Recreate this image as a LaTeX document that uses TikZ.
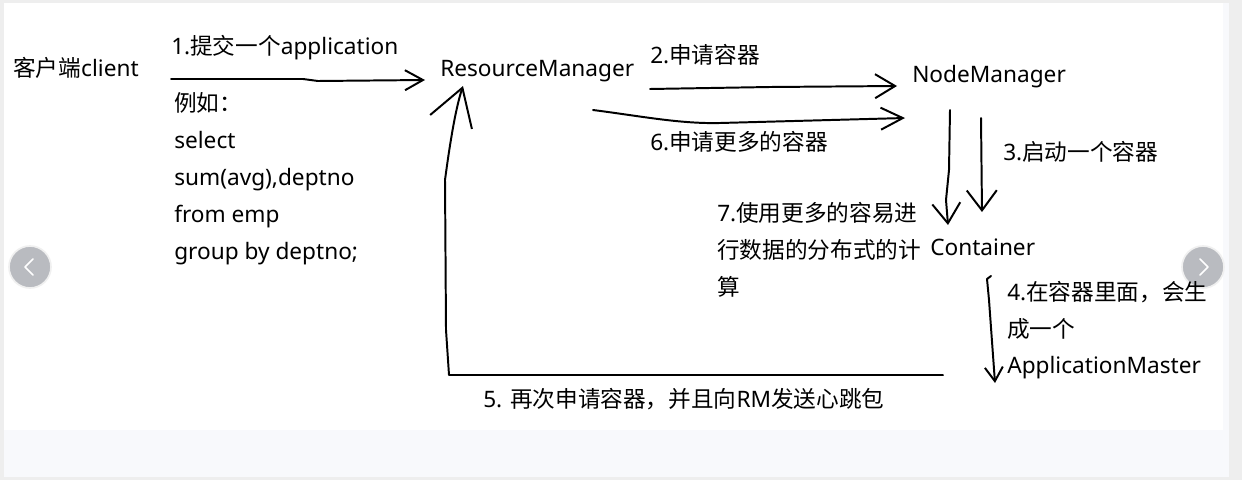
\documentclass[tikz,border=0pt]{standalone}
\usepackage{fontspec}
\setmainfont{Noto Sans}
\newfontfamily\cjk{Noto Sans CJK SC}
\newcommand\zh[1]{{\cjk #1}}
\usepackage{xcolor}
\usetikzlibrary{arrows.meta}
\definecolor{pagegray}{HTML}{EEEEEE}
\definecolor{bandblue}{HTML}{F8F9FC}
\definecolor{btngray}{HTML}{B9BBC0}

\begin{document}
\begin{tikzpicture}[x=0.025cm,y=-0.025cm,
 txt/.style={inner sep=0pt,anchor=base west,font=\fontsize{16.1}{19}\selectfont},
 pen/.style={line width=1.4pt,line cap=round,line join=round},
 btn/.style={circle,draw=gray!12,line width=1.2pt,fill=btngray,minimum size=1.05cm,inner sep=0pt}]
\useasboundingbox (0,0) rectangle (1242,480);
% Screenshot frame with the light band below the sketch.
\fill[pagegray] (0,0) rectangle (1242,480);
\fill[bandblue] (4,3) rectangle (1229,477);
\fill[white] (4,3) rectangle (1223,430);

% Carousel buttons of the page.
\node[btn] (prev) at (30,267) {};
\node[btn] (next) at (1203,267) {};
\draw[white,line width=1.1pt,line cap=round,line join=round]
  ([shift={(3,-8)}]prev.center)--([shift={(-5,0)}]prev.center)--([shift={(3,8)}]prev.center);
\draw[white,line width=1.1pt,line cap=round,line join=round]
  ([shift={(-3,-8)}]next.center)--([shift={(5,0)}]next.center)--([shift={(-3,8)}]next.center);

% Texts of the sketch.
\node[txt] (client) at (13,76) {\zh{客户端}client};
\node[txt] (submit) at (171,54) {1.\zh{提交一个}application};
\foreach \t [count=\i] in {\zh{例如：},select,{sum(avg),deptno},from emp,group by deptno;}
  \node[txt] (sql\i) at (174,{74+37*\i}) {\t};
\node[txt] (rm) at (440,76) {ResourceManager};
\node[txt] (req) at (650,63) {2.\zh{申请容器}};
\node[txt] (more) at (650,150) {6.\zh{申请更多的容器}};
\node[txt] (nm) at (912,82) {NodeManager};
\node[txt] (start) at (1003,160) {3.\zh{启动一个容器}};
\foreach \t [count=\i] in {7.\zh{使用更多的容易进},\zh{行数据的分布式的计},\zh{算}}
  \node[txt] (calc\i) at (717,{184+37*\i}) {\t};
\node[txt] (cont) at (930,255) {Container};
\foreach \t [count=\i] in {4.\zh{在容器里面，会生},\zh{成一个},ApplicationMaster}
  \node[txt] (am\i) at (1007,{264+36.5*\i}) {\t};
\node[txt] (beat) at (483,407) {5. \zh{再次申请容器，并且向}RM\zh{发送心跳包}};

% Free ends of the hand-drawn arrows.
\coordinate (c1s) at (171,79);   \coordinate (c1e) at (425,80);
\coordinate (c2s) at (650,89);   \coordinate (c2e) at (897,86);
\coordinate (c6s) at (593,110);  \coordinate (c6e) at (905,118);
\coordinate (c3s) at (950,110);  \coordinate (c3e) at (948,225);
\coordinate (c3bs) at (981,118); \coordinate (c3be) at (982,212);
\coordinate (c4s) at (991,276);  \coordinate (c4e) at (995,383);
\coordinate (c5s) at (943,375);  \coordinate (c5e) at (463,86);

\draw[pen,-{Straight Barb[length=0.45cm,width=0.5cm]}]
  (c1s)--(303,79)--(318,81)--(c1e);
\draw[pen,-{Straight Barb[length=0.5cm,width=0.6cm]}]
  (c2s)--(770,87)--(c2e);
\draw[pen,-{Straight Barb[length=0.55cm,width=0.55cm]}]
  (c6s) .. controls (640,116) and (680,124) .. (720,123)--(c6e);
\draw[pen,-{Straight Barb[length=0.5cm,width=0.7cm]}]
  (c3s)--(949,170)--(946,200)--(c3e);
\draw[pen,-{Straight Barb[length=0.5cm,width=0.75cm]}]
  (c3bs)--(c3be);
\draw[pen,-{Straight Barb[length=0.35cm,width=0.45cm]}]
  (c4s)--(987,279)--(989,300)--(c4e);
\draw[pen,-{Straight Barb[length=0.9cm,width=1.1cm]}]
  (c5s)--(449,375)--(446,330)--(445,180) .. controls (449,150) and (455,110) .. (c5e);
\end{tikzpicture}
\end{document}
